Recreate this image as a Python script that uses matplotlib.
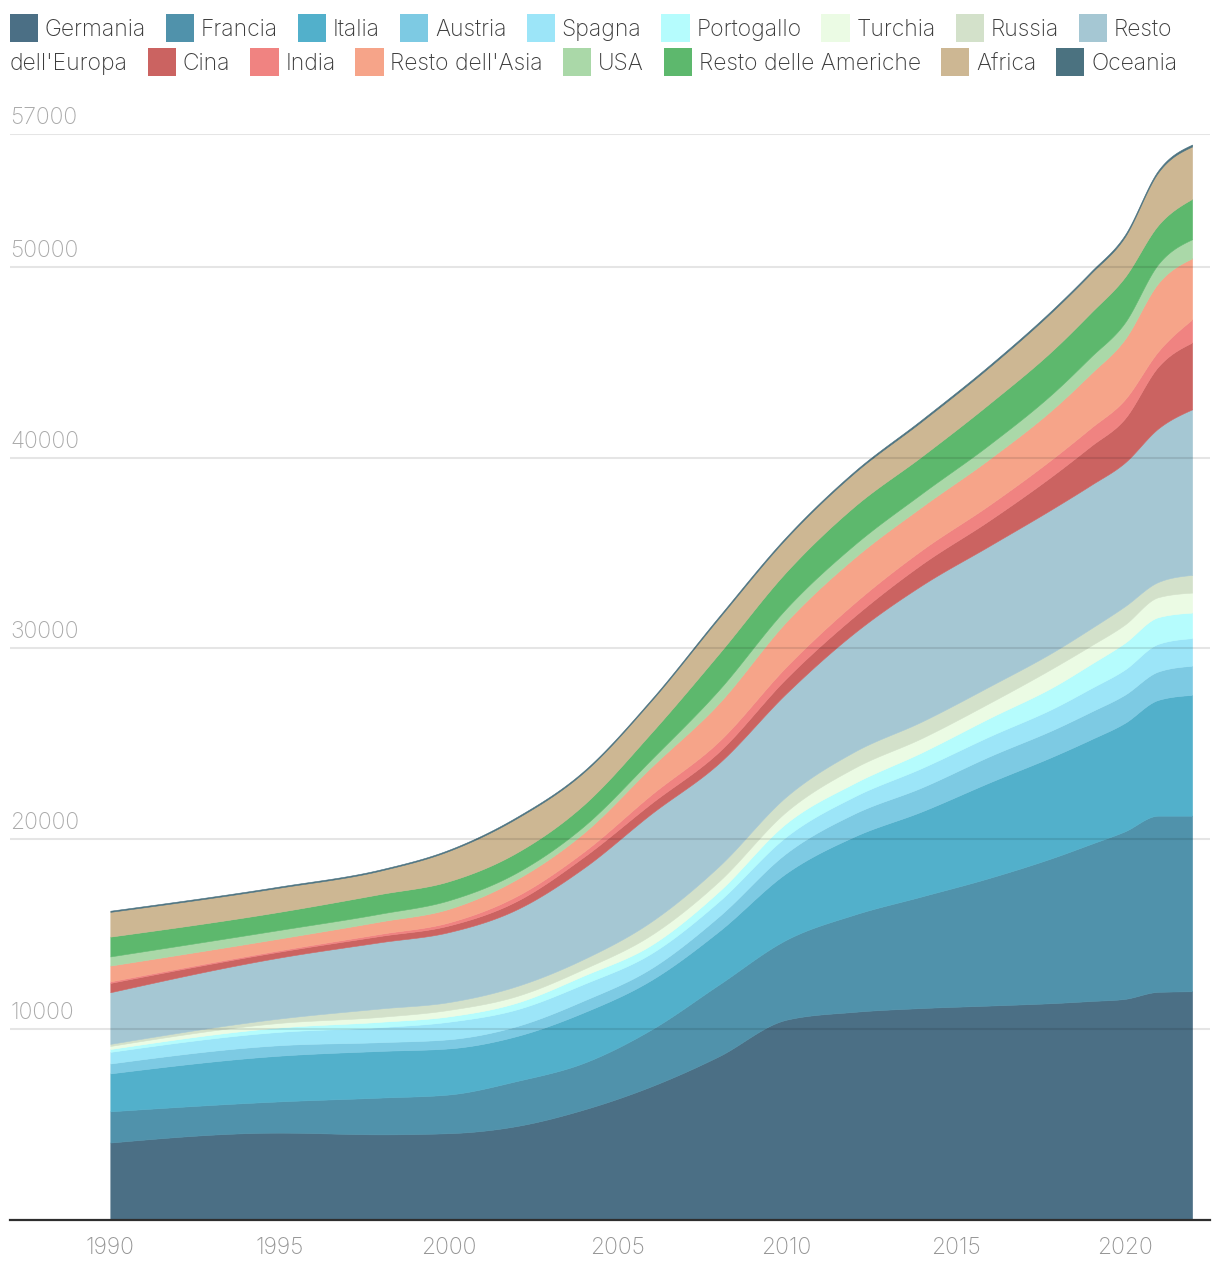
import numpy as np
import matplotlib.pyplot as plt
from matplotlib.patches import Rectangle

plt.rcParams['font.family'] = ['Inter', 'DejaVu Sans']
plt.rcParams['font.weight'] = 'light'

years = [1990, 1995, 1998, 2000, 2002, 2004, 2006, 2008, 2010, 2012, 2014, 2016, 2018, 2019, 2020, 2021, 2022]

germania = [4040, 4560, 4470, 4530, 4900, 5770, 6990, 8570, 10490, 10900, 11100, 11230, 11370, 11470, 11580, 11950, 11980]
francia = [1640, 1640, 1930, 2030, 2360, 2450, 2980, 3760, 4200, 5100, 5860, 6700, 7690, 8240, 8790, 9250, 9220]
italia = [1990, 2400, 2450, 2420, 2360, 2650, 2600, 2800, 3500, 4100, 4460, 5010, 5340, 5490, 5690, 6080, 6340]
austria = [520, 550, 460, 480, 520, 620, 620, 780, 1050, 1200, 1260, 1370, 1400, 1450, 1480, 1490, 1530]
spagna = [610, 700, 790, 920, 880, 870, 780, 790, 870, 900, 1020, 1050, 1130, 1230, 1320, 1450, 1450]
portogallo = [150, 230, 280, 280, 350, 440, 440, 520, 700, 700, 820, 960, 1140, 1270, 1400, 1400, 1340]
turchia = [160, 240, 260, 340, 350, 350, 530, 530, 610, 800, 750, 790, 1000, 970, 960, 1050, 1050]
russia = [110, 230, 440, 410, 520, 520, 700, 790, 790, 850, 870, 870, 840, 900, 960, 800, 930]
resto_europa = [2710, 3200, 3480, 3670, 4020, 4780, 5660, 5410, 5420, 6230, 7150, 7380, 7540, 7530, 7540, 8060, 8690]
cina = [490, 310, 330, 350, 440, 580, 550, 600, 790, 870, 1110, 1340, 1770, 2050, 2310, 3250, 3510]
india = [80, 70, 110, 160, 260, 270, 450, 550, 610, 700, 740, 810, 900, 950, 1000, 800, 1210]
resto_asia = [830, 620, 650, 710, 880, 990, 1450, 2000, 2360, 2370, 2270, 2410, 2610, 2850, 3160, 3580, 3210]
usa = [480, 450, 410, 450, 350, 350, 400, 700, 700, 690, 700, 760, 840, 880, 870, 1000, 1000]
resto_americhe = [1040, 950, 1030, 1000, 1050, 1130, 1400, 1900, 1920, 2010, 1950, 2150, 2270, 2320, 2390, 2050, 2120]
africa = [1300, 1270, 1230, 1590, 1800, 1700, 1680, 1870, 1760, 1760, 1840, 1920, 2060, 2060, 2110, 2770, 2750]
oceania = [60, 60, 60, 60, 70, 70, 70, 80, 80, 80, 90, 90, 90, 90, 100, 100, 100]

names = ['Germania', 'Francia', 'Italia', 'Austria', 'Spagna', 'Portogallo', 'Turchia', 'Russia',
         "Resto dell'Europa", 'Cina', 'India', "Resto dell'Asia", 'USA', 'Resto delle Americhe',
         'Africa', 'Oceania']
series = [germania, francia, italia, austria, spagna, portogallo, turchia, russia, resto_europa,
          cina, india, resto_asia, usa, resto_americhe, africa, oceania]
colors = ['#4b6f85', '#5092ab', '#52b0cb', '#7dcae3', '#9ce5f8', '#b5fcfd', '#ebfbe4', '#d3e1ca',
          '#a5c7d3', '#cb6361', '#f08381', '#f6a489', '#aad8a8', '#5db86d', '#cdb793', '#4b7280']

y_ticks = [10000, 20000, 30000, 40000, 50000, 57000]
x_ticks = [1990, 1995, 2000, 2005, 2010, 2015, 2020]


def monotone_x(x, y, n=30):
    # same curve as d3.curveMonotoneX, only for drawing
    x = np.asarray(x, float)
    y = np.asarray(y, float)
    h = np.diff(x)
    s = np.diff(y) / h
    t = np.zeros_like(y)
    for i in range(1, len(x) - 1):
        p = (s[i - 1] * h[i] + s[i] * h[i - 1]) / (h[i - 1] + h[i])
        t[i] = (np.sign(s[i - 1]) + np.sign(s[i])) * min(abs(s[i - 1]), abs(s[i]), 0.5 * abs(p))
    t[0] = (3 * s[0] - t[1]) / 2
    t[-1] = (3 * s[-1] - t[-2]) / 2
    xs, ys = [], []
    for i in range(len(h)):
        u = np.linspace(0, 1, n, endpoint=(i == len(h) - 1))
        h00 = 2 * u**3 - 3 * u**2 + 1
        h10 = u**3 - 2 * u**2 + u
        h01 = -2 * u**3 + 3 * u**2
        h11 = u**3 - u**2
        xs.append(x[i] + u * h[i])
        ys.append(h00 * y[i] + h10 * h[i] * t[i] + h01 * y[i + 1] + h11 * h[i] * t[i + 1])
    return np.concatenate(xs), np.concatenate(ys)


W, H = 1220, 1272
fig = plt.figure(figsize=(W / 100, H / 100), dpi=100)
ax = fig.add_axes([10 / W, (H - 1219.5) / H, 1200 / W, (1219.5 - 133.7) / H])

tops = np.cumsum(np.array(series, float), axis=0)
bottom = np.zeros(len(years))
for vals, col in zip(tops, colors):
    xs, lo = monotone_x(years, bottom)
    _, hi = monotone_x(years, vals)
    ax.fill_between(xs, lo, hi, facecolor=col, edgecolor=col, linewidth=0.4, zorder=1)
    bottom = vals

ax.set_xlim(1987.033, 2022.529)
ax.set_ylim(0, 57000)
ax.set_yticks(y_ticks)
ax.set_yticklabels([])
ax.tick_params(axis='y', length=0)
ax.set_axisbelow(False)
ax.grid(axis='y', color='black', alpha=0.1, linewidth=1.5)
ax.set_xticks(x_ticks)
ax.set_xticklabels([str(v) for v in x_ticks])
ax.tick_params(axis='x', length=0, pad=12.5, labelsize=16.5, labelcolor='#959595')
for side in ['top', 'right', 'left']:
    ax.spines[side].set_visible(False)
ax.spines['bottom'].set_color('#2e2e2e')
ax.spines['bottom'].set_linewidth(1.6)
ax.spines['bottom'].set_zorder(3)

for v in y_ticks:
    ax.annotate(str(v), xy=(0, v), xycoords=('axes fraction', 'data'), xytext=(0, 7),
                textcoords='offset points', ha='left', va='baseline', fontsize=16.5,
                color='#aaaaaa')

# legend laid out like wrapped inline html
renderer = fig.canvas.get_renderer()
LFS = 15.0


def text_w(s):
    t = fig.text(0, 0, s, fontsize=LFS)
    w = t.get_window_extent(renderer).width
    t.remove()
    return w


# size the legend text so "Germania" is about 101 px wide, as in the source
LFS = LFS * 101 / text_w('Germania')

space = text_w('a b') - text_w('ab')
baselines = [35.7, 69.7]
right_limit = 1212
x, line = 9.7, 0


def put_text(s, px, ln):
    fig.text(px / W, 1 - baselines[ln] / H, s, fontsize=LFS, color='#3c3c3c',
             ha='left', va='baseline')


for name, col in zip(names, colors):
    words = name.split(' ')
    if x + 35 + text_w(words[0]) > right_limit:
        x, line = 9.7, line + 1
    top = baselines[line] - 21.7
    fig.add_artist(Rectangle((x / W, 1 - (top + 28) / H), 28.4 / W, 28 / H,
                             transform=fig.transFigure, facecolor=col, edgecolor='none'))
    x += 35
    frag, fx = words[0], x
    x += text_w(words[0])
    for wd in words[1:]:
        ww = text_w(wd)
        if x + space + ww > right_limit:
            put_text(frag, fx, line)
            line += 1
            frag, fx = wd, 9.7
            x = 9.7 + ww
        else:
            frag += ' ' + wd
            x += space + ww
    put_text(frag, fx, line)
    x += 20

fig.savefig('out.png', dpi=100)
